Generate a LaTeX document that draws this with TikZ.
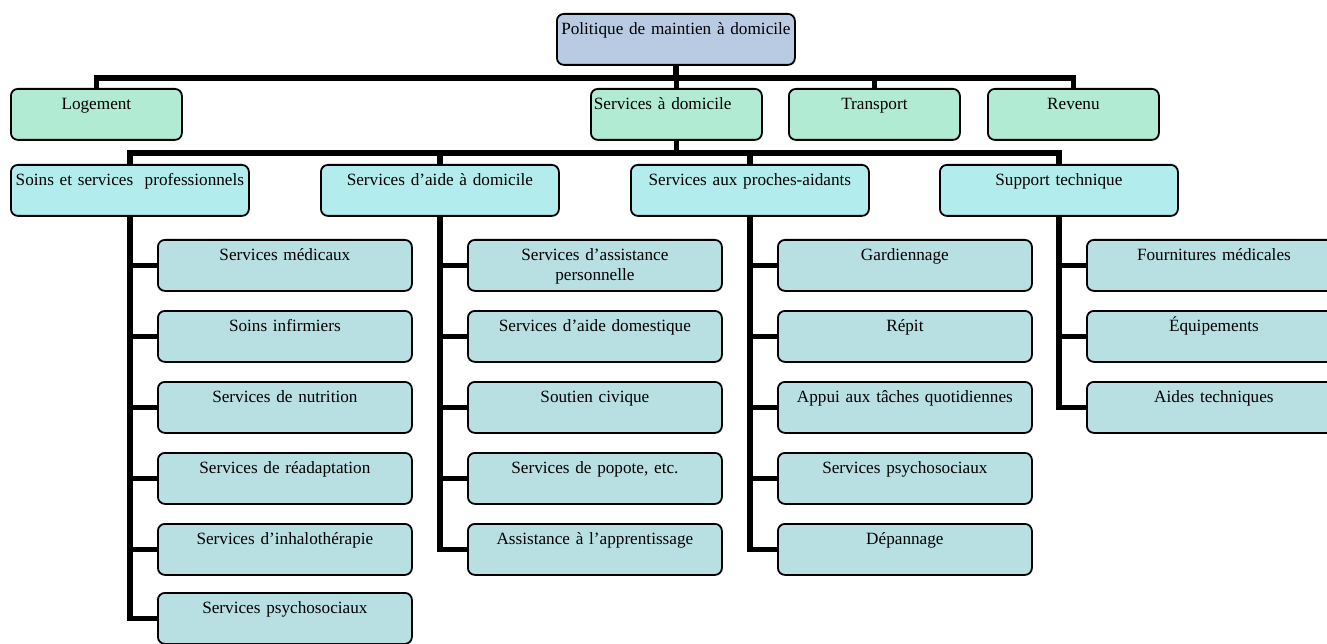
\documentclass[tikz,border=0pt]{standalone}
\usepackage{fontspec}
\setmainfont{Liberation Serif}
\definecolor{polblue}{RGB}{185,203,227}
\definecolor{secgreen}{RGB}{178,235,212}
\definecolor{subcyan}{RGB}{178,236,236}
\definecolor{leafteal}{RGB}{184,223,226}
\begin{document}
\begin{tikzpicture}[x=1pt,y=-1pt,
    box/.style={draw=black, line width=1.8pt, rounded corners=7pt, anchor=north west,
                inner xsep=3pt, inner ysep=0pt, text height=21pt, text depth=30pt,
                align=center, font=\fontsize{17.2}{20}\selectfont},
    polbox/.style={box, fill=polblue,  text width=232pt},
    secbox/.style={box, fill=secgreen, text width=165pt},
    subbox/.style={box, fill=subcyan,  text width=232pt},
    leafbox/.style={box, fill=leafteal, text width=248pt},
    link/.style={line width=5.5pt, draw=black}]
    \clip (0,0) rectangle (1327,644);
    \node[polbox]            (pol)   at ( 556, 13) {Politique de maintien à domicile};
    \node[secbox]            (loge)  at (  10, 88) {Logement};
    \node[secbox,align=left] (sdom)  at ( 590, 88) {Services à domicile};
    \node[secbox]            (trans) at ( 788, 88) {Transport};
    \node[secbox]            (rev)   at ( 987, 88) {Revenu};
    \node[subbox]            (soins) at (  10,164) {Soins et services~ professionnels};
    \node[subbox]            (aide)  at ( 320,164) {Services d’aide à domicile};
    \node[subbox]            (proch) at ( 630,164) {Services aux proches-aidants};
    \node[subbox]            (supp)  at ( 939,164) {Support technique};
    \node[leafbox]           (s1)    at ( 157,239) {Services médicaux};
    \node[leafbox]           (s2)    at ( 157,310) {Soins infirmiers};
    \node[leafbox]           (s3)    at ( 157,381) {Services de nutrition};
    \node[leafbox]           (s4)    at ( 157,452) {Services de réadaptation};
    \node[leafbox]           (s5)    at ( 157,523) {Services d’inhalothérapie};
    \node[leafbox]           (s6)    at ( 157,592) {Services psychosociaux};
    \node[leafbox]           (a1)    at ( 467,239) {Services d’assistance\\personnelle};
    \node[leafbox]           (a2)    at ( 467,310) {Services d’aide domestique};
    \node[leafbox]           (a3)    at ( 467,381) {Soutien civique};
    \node[leafbox]           (a4)    at ( 467,452) {Services de popote, etc.};
    \node[leafbox]           (a5)    at ( 467,523) {Assistance à l’apprentissage};
    \node[leafbox]           (p1)    at ( 777,239) {Gardiennage};
    \node[leafbox]           (p2)    at ( 777,310) {Répit};
    \node[leafbox]           (p3)    at ( 777,381) {Appui aux tâches quotidiennes};
    \node[leafbox]           (p4)    at ( 777,452) {Services psychosociaux};
    \node[leafbox]           (p5)    at ( 777,523) {Dépannage};
    \node[leafbox]           (t1)    at (1086,239) {Fournitures médicales};
    \node[leafbox]           (t2)    at (1086,310) {Équipements};
    \node[leafbox]           (t3)    at (1086,381) {Aides techniques};
    \draw[link]              (pol.south)   -- ++(0,12) -| (loge.north);
    \draw[link]              (pol.south)   -- ++(0,12) -| (sdom.north);
    \draw[link]              (pol.south)   -- ++(0,12) -| (trans.north);
    \draw[link]              (pol.south)   -- ++(0,12) -| (rev.north);
    \draw[link]              (sdom.south)  -- ++(0,12) -| (soins.north);
    \draw[link]              (sdom.south)  -- ++(0,12) -| (aide.north);
    \draw[link]              (sdom.south)  -- ++(0,12) -| (proch.north);
    \draw[link]              (sdom.south)  -- ++(0,12) -| (supp.north);
    \draw[link]              (soins.south) |- (s1.west);
    \draw[link]              (soins.south) |- (s2.west);
    \draw[link]              (soins.south) |- (s3.west);
    \draw[link]              (soins.south) |- (s4.west);
    \draw[link]              (soins.south) |- (s5.west);
    \draw[link]              (soins.south) |- (s6.west);
    \draw[link]              (aide.south)  |- (a1.west);
    \draw[link]              (aide.south)  |- (a2.west);
    \draw[link]              (aide.south)  |- (a3.west);
    \draw[link]              (aide.south)  |- (a4.west);
    \draw[link]              (aide.south)  |- (a5.west);
    \draw[link]              (proch.south) |- (p1.west);
    \draw[link]              (proch.south) |- (p2.west);
    \draw[link]              (proch.south) |- (p3.west);
    \draw[link]              (proch.south) |- (p4.west);
    \draw[link]              (proch.south) |- (p5.west);
    \draw[link]              (supp.south)  |- (t1.west);
    \draw[link]              (supp.south)  |- (t2.west);
    \draw[link]              (supp.south)  |- (t3.west);
  \end{tikzpicture}
\end{document}
